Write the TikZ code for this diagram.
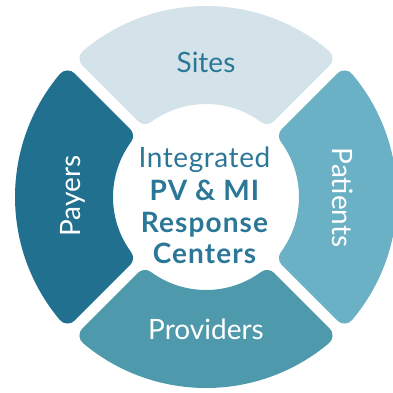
\documentclass[tikz,border=0pt]{standalone}
\usepackage{fontspec}
\setmainfont{Lato}
\newfontfamily\ctrreg[LetterSpace=2]{Lato}
\newfontfamily\ctrbold[LetterSpace=4]{Lato Bold}
\definecolor{sitesC}{HTML}{D4E3EA}
\definecolor{payersC}{HTML}{22708F}
\definecolor{patientsC}{HTML}{6BB1C6}
\definecolor{providersC}{HTML}{4E9AAC}
\definecolor{textC}{HTML}{2B7797}
\begin{document}
\begin{tikzpicture}[x=1pt,y=1pt,
  lbl/.style={font=\fontsize{28}{30}\selectfont, anchor=base, inner sep=0pt},
  ctr/.style={font=\fontsize{28}{30}\selectfont\ctrreg, anchor=base, inner sep=0pt, text=textC},
  ctrb/.style={ctr, font=\fontsize{28}{30}\selectfont\ctrbold}]
\useasboundingbox (-206,-195) rectangle (187,197);
\pgfmathsetmacro{\Ro}{181}
\pgfmathsetmacro{\Ri}{103}
\pgfmathsetmacro{\dd}{15.5}
\pgfmathsetmacro{\ao}{asin(\dd/\Ro)}
\pgfmathsetmacro{\ai}{asin(\dd/\Ri)}
\foreach \phi/\col in {90/sitesC,180/payersC,0/patientsC,270/providersC}{
  \filldraw[fill=\col, draw=\col, line width=20pt, line join=round]
    ({\phi-45+\ai}:\Ri) -- ({\phi-45+\ao}:\Ro)
    arc[start angle={\phi-45+\ao}, end angle={\phi+45-\ao}, radius=\Ro]
    -- ({\phi+45-\ai}:\Ri)
    arc[start angle={\phi+45-\ai}, end angle={\phi-45+\ai}, radius=\Ri]
    -- cycle;
}
\node[lbl, text=textC] (sites) at (0,125) {Sites};
\node[lbl, text=white] (providers) at (0,-142) {Providers};
\node[lbl, text=white, rotate=90] (payers) at (-125,1) {Payers};
\node[lbl, text=white, rotate=-90] (patients) at (126,-0.5) {Patients};
\node[ctr] (l1) at (-1.5,30) {Integrated};
\node[ctrb] (l2) at (-1.5,-3) {PV \& MI};
\node[ctrb] (l3) at (-1.5,-35) {Response};
\node[ctrb] (l4) at (-1.5,-66) {Centers};
\end{tikzpicture}
\end{document}
